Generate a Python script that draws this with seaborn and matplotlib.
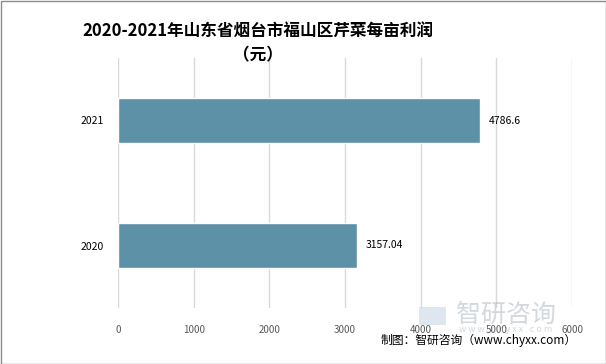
import matplotlib
matplotlib.use("Agg")
import matplotlib.pyplot as plt
import seaborn as sns
import pandas as pd
from matplotlib.patches import Rectangle

years = ["2021", "2020"]
profits = [4786.6, 3157.04]
value_labels = ["4786.6", "3157.04"]
xticks = [0, 1000, 2000, 3000, 4000, 5000, 6000]

sns.set_theme(style="white")
plt.rcParams['font.family'] = ['Noto Sans CJK SC', 'DejaVu Sans']

df = pd.DataFrame({"year": years, "profit": profits})

fig = plt.figure(figsize=(6.06, 3.64), dpi=100)
ax = fig.add_axes([118/606, 1-308/364, (572-118)/606, (308-58)/364])
sns.barplot(data=df, x="profit", y="year", order=years, color="#5D91A7",
            width=0.36, saturation=1, ax=ax)
ax.set_xlim(0, 6000)
ax.set_ylim(1.5, -0.5)
ax.set_xticks(xticks)
ax.set_xticklabels([str(t) for t in xticks], fontsize=7, color="#595959")
ax.tick_params(axis='x', length=0, pad=12)
ax.tick_params(axis='y', length=0, pad=10, labelsize=7.5, labelcolor="#000000")
ax.grid(axis='x', color="#D9D9D9", linewidth=1)
ax.set_axisbelow(True)
for s in ax.spines.values():
    s.set_visible(False)
ax.set_xlabel("")
ax.set_ylabel("")

for i, (v, lab) in enumerate(zip(profits, value_labels)):
    ax.text(v + 110, i, lab, va='center', ha='left', fontsize=7.5, color="#000000")

fig.text(258/606, 1-31/364, "2020-2021年山东省烟台市福山区芹菜每亩利润", ha='center', va='center',
         fontsize=12, fontweight='bold', color="#000000")
fig.text(258/606, 1-55/364, "（元）", ha='center', va='center',
         fontsize=12, fontweight='bold', color="#000000")

# watermark
fig.text(506/606, 1-315/364, "智研咨询", ha='center', va='center', fontsize=18,
         color="#B0B8C0", alpha=0.55)
fig.text(506/606, 1-329/364, "w w w . c h y x x . c o m", ha='center', va='center', fontsize=6.5,
         color="#B0B8C0", alpha=0.55)
fig.patches.append(Rectangle((419/606, 1-325/364), 27/606, 18/364, transform=fig.transFigure,
                             facecolor="#C9D6E6", alpha=0.6, edgecolor='none'))

fig.text(577/606, 1-340/364, "制图：智研咨询（www.chyxx.com）", ha='right', va='center',
         fontsize=8.5, color="#000000")

fig.patches.append(Rectangle((0.5/606, 0.5/364), 605/606, 363/364, transform=fig.transFigure,
                             facecolor='none', edgecolor="#8C8C8C", linewidth=1))

fig.savefig("out.png", dpi=100)
